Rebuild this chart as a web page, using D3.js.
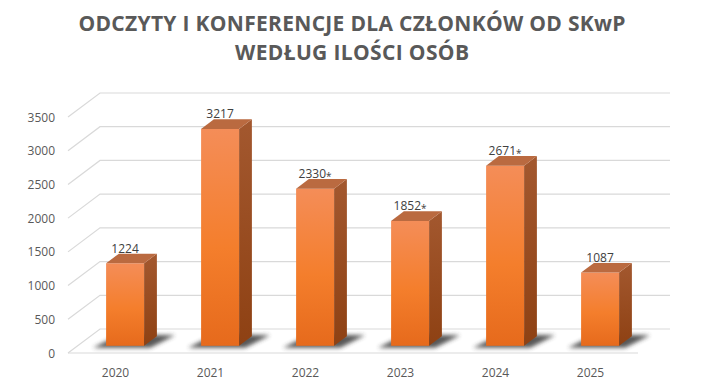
<!DOCTYPE html>
<html>
<head>
<meta charset="utf-8">
<script src="https://cdn.jsdelivr.net/npm/d3@7"></script>
<style>
html,body{margin:0;padding:0;background:#fff;}
svg{display:block;}
</style>
</head>
<body>
<svg id="chart" width="703" height="385"></svg>
<script>
const categories = ["2020","2021","2022","2023","2024","2025"];
const values = [1224, 3217, 2330, 1852, 2671, 1087];
const valueLabels = ["1224","3217","2330*","1852*","2671*","1087"];
const yTicks = [0,500,1000,1500,2000,2500,3000,3500];
const titleLines = ["ODCZYTY I KONFERENCJE DLA CZŁONKÓW OD SKwP","WEDŁUG ILOŚCI OSÓB"];

const svg = d3.select("#chart");
const depth = {dx: 32, dy: -24};
const x = d3.scaleBand().domain(categories).range([68, 638]).paddingInner(0).paddingOuter(0);
const y = d3.scaleLinear().domain([0, 3500]).range([353, 117]);
const f0 = 0.3, f1 = 0.7; // bar depth fraction
const barFrac = 0.4;

const defs = svg.append("defs");
const gFront = defs.append("linearGradient").attr("id","gFront").attr("x1",0).attr("y1",0).attr("x2",0).attr("y2",1);
gFront.append("stop").attr("offset","0%").attr("stop-color","#F48D58");
gFront.append("stop").attr("offset","55%").attr("stop-color","#F47E2C");
gFront.append("stop").attr("offset","100%").attr("stop-color","#E66A1C");
const gSide = defs.append("linearGradient").attr("id","gSide").attr("x1",0).attr("y1",0).attr("x2",0).attr("y2",1);
gSide.append("stop").attr("offset","0%").attr("stop-color","#A3582F");
gSide.append("stop").attr("offset","100%").attr("stop-color","#8E4113");
const blur = defs.append("filter").attr("id","blur").attr("x","-50%").attr("y","-50%").attr("width","200%").attr("height","200%");
blur.append("feGaussianBlur").attr("stdDeviation",2.2);

// Title
const titleWidths = [547, 234];
svg.append("g").selectAll("text").data(titleLines).join("text")
  .attr("x", 352).attr("y", (d,i)=> 31 + i*29)
  .attr("text-anchor","middle")
  .attr("font-family","'Open Sans', sans-serif")
  .attr("font-weight","bold")
  .attr("font-size", 21)
  .attr("fill","#595959")
  .attr("textLength", (d,i)=>titleWidths[i])
  .attr("lengthAdjust","spacing")
  .text(d=>d);

// Gridlines: side wall diagonals + back wall
const x0 = x.range()[0], x1 = x.range()[1];
const grid = svg.append("g").attr("stroke","#d9d9d9").attr("stroke-width",1.2).attr("fill","none");
yTicks.forEach(t=>{
  const yy = y(t);
  grid.append("path").attr("d", `M${x0},${yy}L${x0+depth.dx},${yy+depth.dy}L${x1+depth.dx},${yy+depth.dy}`);
});
grid.append("line").attr("x1",x0).attr("x2",x1).attr("y1",y(0)).attr("y2",y(0));

// Y axis labels
svg.append("g").selectAll("text").data(yTicks).join("text")
  .attr("x", 55).attr("y", d=>y(d)+4.5)
  .attr("text-anchor","end")
  .attr("font-family","'Open Sans', sans-serif")
  .attr("font-size",12).attr("fill","#595959")
  .text(d=>d);

// Category labels
svg.append("g").selectAll("text").data(categories).join("text")
  .attr("x", d=>x(d)+x.bandwidth()/2).attr("y", 377)
  .attr("text-anchor","middle")
  .attr("font-family","'Open Sans', sans-serif")
  .attr("font-size",12).attr("fill","#595959")
  .text(d=>d);

// Bars
const bars = svg.append("g");
categories.forEach((c,i)=>{
  const bw = x.bandwidth()*barFrac;
  const bx = x(c) + (x.bandwidth()-bw)/2 + depth.dx*f0;
  const base = y(0) + depth.dy*f0;
  const top = y(values[i]) + depth.dy*f0;
  const sdx = depth.dx*(f1-f0), sdy = depth.dy*(f1-f0);
  const g = bars.append("g");
  g.append("path")
    .attr("d", `M${bx-13},${base+2}L${bx+bw+6},${base+2}L${bx+bw+sdx+18},${base+sdy-1}L${bx+14},${base+sdy-2}Z`)
    .attr("fill","#3a3a3a").attr("opacity",0.85).attr("filter","url(#blur)");
  g.append("rect").attr("x",bx).attr("y",top).attr("width",bw).attr("height",base-top).attr("fill","url(#gFront)");
  g.append("path").attr("d",`M${bx+bw},${top}L${bx+bw+sdx},${top+sdy}L${bx+bw+sdx},${base+sdy}L${bx+bw},${base}Z`).attr("fill","url(#gSide)");
  g.append("path").attr("d",`M${bx},${top}L${bx+bw},${top}L${bx+bw+sdx},${top+sdy}L${bx+sdx},${top+sdy}Z`).attr("fill","#BA6A40");
  const lbl = valueLabels[i];
  const star = lbl.endsWith("*");
  const t = g.append("text").attr("x", bx+bw/2).attr("y", top+sdy-1)
    .attr("text-anchor","middle")
    .attr("font-family","'Open Sans', sans-serif")
    .attr("font-size",12).attr("fill","#404040");
  t.append("tspan").text(star ? lbl.slice(0,-1) : lbl);
  if (star) t.append("tspan").attr("font-size",10).attr("dy",1.5).text("*");
});
</script>
</body>
</html>
